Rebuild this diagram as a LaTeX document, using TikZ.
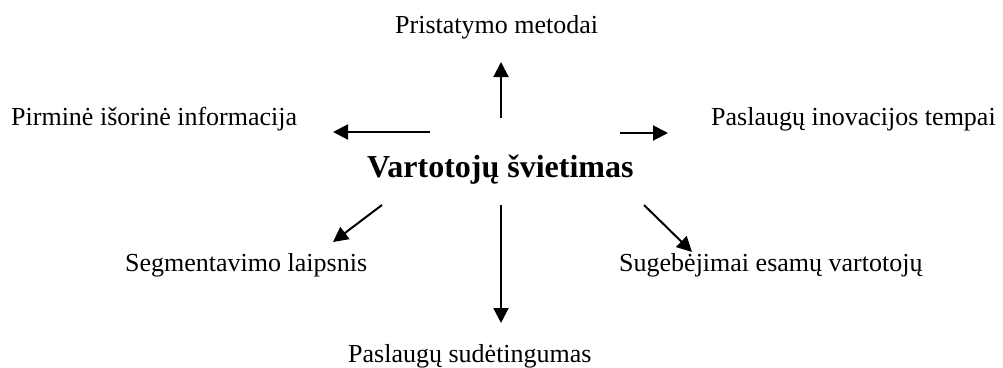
\documentclass[tikz,border=0pt]{standalone}
\usepackage{fontspec}
\setmainfont{Liberation Serif}
\usetikzlibrary{arrows.meta}
\begin{document}
\begin{tikzpicture}[x=1pt,y=-1pt,
  label/.style={inner sep=0pt,anchor=base west,font=\fontsize{26}{30}\selectfont},
  hub/.style={inner sep=0pt,anchor=base west,font=\fontsize{32}{38}\selectfont\bfseries},
  link/.style={line width=2pt,-{Triangle[length=15pt,width=15pt]}}]
\useasboundingbox (0,0) rectangle (1003,367);

% central topic
\node[hub] (c) at (367,177) {Vartotojų švietimas};

% surrounding factors
\node[label] (top) at (395,33) {Pristatymo metodai};
\node[label] (lt) at (11,125) {Pirminė išorinė informacija};
\node[label] (rt) at (711,125) {Paslaugų inovacijos tempai};
\node[label] (lb) at (125,271) {Segmentavimo laipsnis};
\node[label] (rb) at (619,271) {Sugebėjimai esamų vartotojų};
\node[label] (bot) at (348,362) {Paslaugų sudėtingumas};

% arrow end points
\coordinate (cT) at (501,118);  \coordinate (topE) at (501,62);
\coordinate (cL) at (430,132);  \coordinate (ltE) at (333,132);
\coordinate (cR) at (620,133);  \coordinate (rtE) at (668,133);
\coordinate (cLB) at (382,205); \coordinate (lbE) at (333,242);
\coordinate (cB) at (501,205);  \coordinate (botE) at (501,323);
\coordinate (cRB) at (644,205); \coordinate (rbE) at (692,252);

\draw[link] (cT) -- (topE);
\draw[link] (cL) -- (ltE);
\draw[link] (cR) -- (rtE);
\draw[link] (cLB) -- (lbE);
\draw[link] (cB) -- (botE);
\draw[link] (cRB) -- (rbE);
\end{tikzpicture}
\end{document}
